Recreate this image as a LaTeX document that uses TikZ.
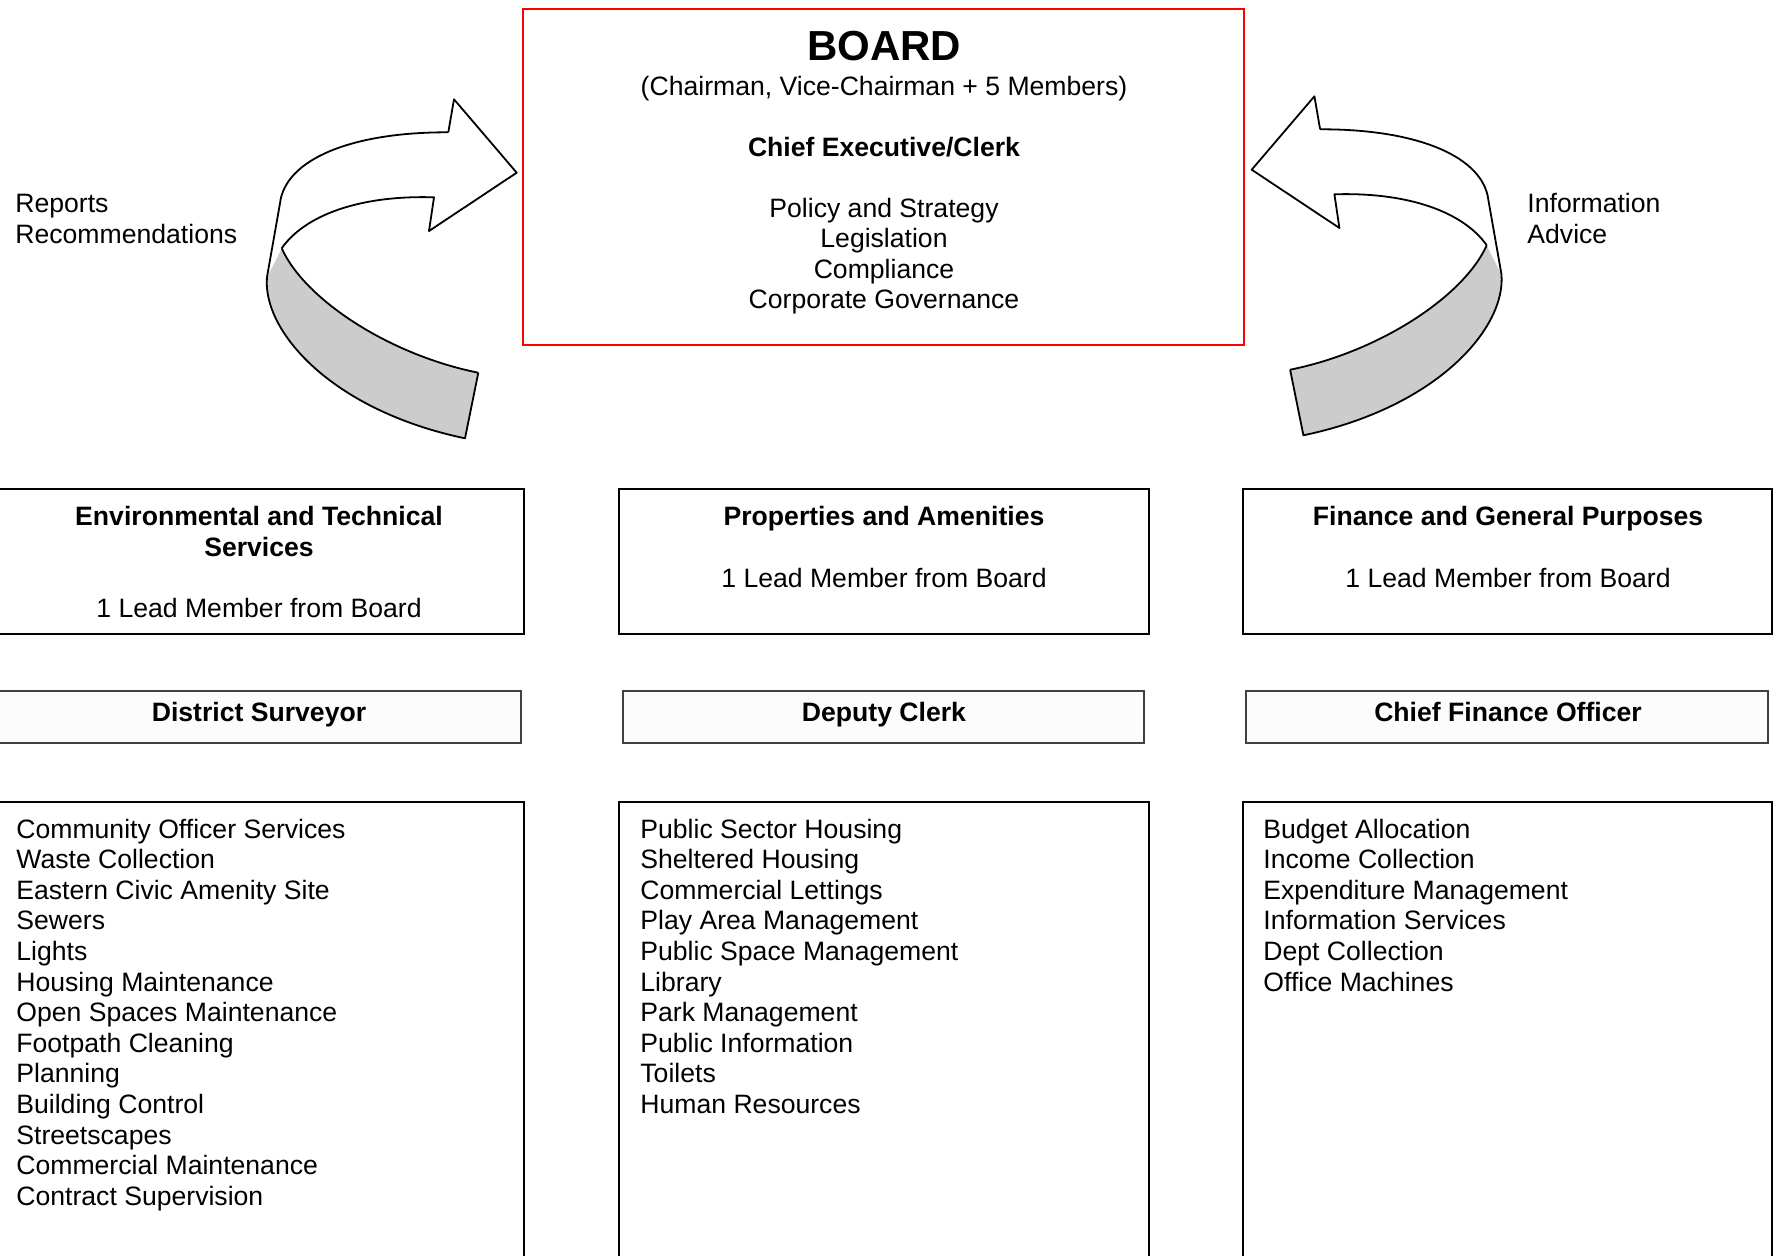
\documentclass[tikz,border=0pt]{standalone}
\usepackage{fontspec}
\setmainfont{Liberation Sans}

\definecolor{bandgray}{HTML}{CCCCCC}
\definecolor{boardred}{HTML}{FF0000}

\newcommand{\bodyfont}{\fontsize{13.3}{15.3}\selectfont}

% one bent 3-d arrow, drawn on the left; mirrored for the right
\newcommand{\bentarrow}{%
  \coordinate (inleft) at (281.7,248.3);
  \coordinate (notchlow) at (434,197.3);
  \coordinate (headlow) at (429,231);
  \coordinate (tip) at (516.7,172.7);
  \coordinate (headup) at (454,99.3);
  \coordinate (notchup) at (448.3,132.3);
  \coordinate (outleft) at (280,203.3);
  \coordinate (outlow) at (267,277);
  \coordinate (bandin) at (478.3,372.7);
  \coordinate (bandout) at (465,438.3);
  \fill[bandgray] (inleft) .. controls (305,300) and (390,355) .. (bandin)
    -- (bandout) .. controls (330,410) and (262,330) .. (outlow) -- cycle;
  \fill[white] (notchup) .. controls (350,132) and (285,160) .. (outleft)
    -- (outlow) -- (inleft) .. controls (305,215) and (360,195) .. (notchlow)
    -- (headlow) -- (tip) -- (headup) -- cycle;
  \draw[arrowline] (notchup) .. controls (350,132) and (285,160) .. (outleft)
    -- (outlow) .. controls (262,330) and (330,410) .. (bandout) -- (bandin);
  \draw[arrowline] (inleft) .. controls (305,300) and (390,355) .. (bandin);
  \draw[arrowline] (inleft) .. controls (305,215) and (360,195) .. (notchlow)
    -- (headlow) -- (tip) -- (headup) -- (notchup);
}

\begin{document}
\begin{tikzpicture}[x=0.5pt,y=-0.5pt,
    txt/.style={inner sep=0pt, font=\bodyfont, anchor=base},
    head/.style={txt, font=\bodyfont\bfseries},
    item/.style={txt, anchor=base west},
    panel/.style={draw, line width=1pt},
    namebox/.style={draw=black!75, fill=black!1, line width=0.7pt},
    arrowline/.style={line width=0.9pt, line join=round}]

	\useasboundingbox (0,0) rectangle (1775,1255);
	\clip (0,0) rectangle (1775,1255);
	\fill[white] (0,0) rectangle (1775,1255);

	% board
	\draw[draw=boardred, line width=1.2pt] (523,9) rectangle (1244,345);
	\node[txt, font=\fontsize{21}{24}\selectfont\bfseries] (board) at (884,60) {BOARD};
	\node[txt] (members) at (884,95) {(Chairman, Vice-Chairman + 5 Members)};
	\node[head] (clerk) at (884,156) {Chief Executive/Clerk};
	\foreach \t [count=\i] in {Policy and Strategy, Legislation, Compliance, Corporate Governance}
	\node[txt] (remit\i) at (884,{217+(\i-1)*30.5}) {\t};

	% arrows and side labels (base = last line)
	\bentarrow
	\begin{scope}[shift={(1768.4,-3)}, xscale=-1]
		\bentarrow
	\end{scope}
	\node[item, align=left] (reports) at (15,243) {Reports\\Recommendations};
	\node[item, align=left] (info) at (1527,243) {Information\\Advice};

	% committees
	\draw[panel] (-6,489) rectangle (524,634);
	\draw[panel] (619,489) rectangle (1149,634);
	\draw[panel] (1243,489) rectangle (1772,634);
	\node[head, align=center] (envcom) at (259,556) {Environmental and Technical\\Services};
	\node[txt] (envlead) at (259,617) {1 Lead Member from Board};
	\node[head] (propcom) at (884,525) {Properties and Amenities};
	\node[txt] (proplead) at (884,587) {1 Lead Member from Board};
	\node[head] (fincom) at (1508,525) {Finance and General Purposes};
	\node[txt] (finlead) at (1508,587) {1 Lead Member from Board};

	% officers
	\draw[namebox] (-3,691) rectangle (521,743);
	\draw[namebox] (623,691) rectangle (1144,743);
	\draw[namebox] (1246,691) rectangle (1768,743);
	\node[head] (surveyor) at (259,721) {District Surveyor};
	\node[head] (deputy) at (884,721) {Deputy Clerk};
	\node[head] (cfo) at (1508,721) {Chief Finance Officer};

	% services
	\draw[panel] (-6,802) rectangle (524,1270);
	\draw[panel] (619,802) rectangle (1149,1270);
	\draw[panel] (1243,802) rectangle (1772,1270);
	\foreach \t [count=\i] in {Community Officer Services, Waste Collection,
		Eastern Civic Amenity Site, Sewers, Lights, Housing Maintenance,
		Open Spaces Maintenance, Footpath Cleaning, Planning, Building Control,
		Streetscapes, Commercial Maintenance, Contract Supervision}
	\node[item] (env\i) at (16,{838+(\i-1)*30.6}) {\t};
	\foreach \t [count=\i] in {Public Sector Housing, Sheltered Housing,
		Commercial Lettings, Play Area Management, Public Space Management,
		Library, Park Management, Public Information, Toilets, Human Resources}
	\node[item] (prop\i) at (640,{838+(\i-1)*30.6}) {\t};
	\foreach \t [count=\i] in {Budget Allocation, Income Collection,
		Expenditure Management, Information Services, Dept Collection,
		Office Machines}
	\node[item] (fin\i) at (1263,{838+(\i-1)*30.6}) {\t};
\end{tikzpicture}
\end{document}
